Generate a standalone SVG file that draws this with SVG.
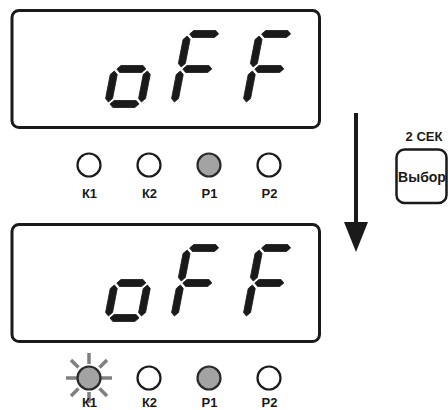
<svg xmlns="http://www.w3.org/2000/svg" xmlns:xlink="http://www.w3.org/1999/xlink" width="448" height="410" viewBox="0 0 448 410">
<style>
.box{fill:#fff;stroke:#1a1a1a;stroke-width:3}
.seg{fill:#1a1a1a;stroke:#1a1a1a;stroke-width:0.8;stroke-linejoin:round}
.led{fill:#fff;stroke:#1a1a1a;stroke-width:2.2}
.on{fill:#a3a3a3;stroke:#2a2a2a;stroke-width:2.2}
.lbl{font-family:"Liberation Sans",Arial,sans-serif;font-weight:bold;font-size:13px;fill:#1a1a1a;text-anchor:middle}
.ray{stroke:#808080;stroke-width:3.5}
.btn{fill:#fff;stroke:#1a1a1a;stroke-width:2.5}
</style>
<defs>
<g id="digO" transform="skewX(-11)">
<polygon class="seg" points="2,-35 5.5,-38.5 27.5,-38.5 31,-35 27.5,-31.5 5.5,-31.5"/>
<polygon class="seg" points="2,0 5.5,-3.5 27.5,-3.5 31,0 27.5,3.5 5.5,3.5"/>
<polygon class="seg" points="0,-33 3.5,-29.5 3.5,-5.5 0,-2 -3.5,-5.5 -3.5,-29.5"/>
<polygon class="seg" points="33,-33 36.5,-29.5 36.5,-5.5 33,-2 29.5,-5.5 29.5,-29.5"/>
</g>
<g id="digF" transform="skewX(-11)">
<polygon class="seg" points="2,-70 5.5,-73.5 27.5,-73.5 31,-70 27.5,-66.5 5.5,-66.5"/>
<polygon class="seg" points="2,-35 5.5,-38.5 27.5,-38.5 31,-35 27.5,-31.5 5.5,-31.5"/>
<polygon class="seg" points="0,-68 3.5,-64.5 3.5,-40.5 0,-37 -3.5,-40.5 -3.5,-64.5"/>
<polygon class="seg" points="0,-33 3.5,-29.5 3.5,-5.5 0,-2 -3.5,-5.5 -3.5,-29.5"/>
</g>
</defs>

<g id="display1">
<rect class="box" x="12" y="10.5" width="307.5" height="117" rx="7"/>
<use xlink:href="#digO" href="#digO" transform="translate(108,104)"/>
<use xlink:href="#digF" href="#digF" transform="translate(174,104)"/>
<use xlink:href="#digF" href="#digF" transform="translate(246,104)"/>
</g>
<g id="leds1">
<circle class="led" cx="89" cy="165" r="11.5"/>
<circle class="led" cx="149" cy="165" r="11.5"/>
<circle class="on" cx="209" cy="165" r="11.5"/>
<circle class="led" cx="269" cy="165" r="11.5"/>
<text class="lbl" x="89.5" y="197.5">К1</text>
<text class="lbl" x="149.5" y="197.5">К2</text>
<text class="lbl" x="209.5" y="197.5">Р1</text>
<text class="lbl" x="269.5" y="197.5">Р2</text>
</g>

<g id="display2">
<rect class="box" x="12" y="224.5" width="307.5" height="117" rx="7"/>
<use xlink:href="#digO" href="#digO" transform="translate(108,318)"/>
<use xlink:href="#digF" href="#digF" transform="translate(174,318)"/>
<use xlink:href="#digF" href="#digF" transform="translate(246,318)"/>
</g>
<g id="leds2">
<g transform="translate(89,378)">
<line class="ray" x1="0" y1="-14" x2="0" y2="-25"/>
<line class="ray" x1="0" y1="14" x2="0" y2="25"/>
<line class="ray" x1="-12" y1="0" x2="-23" y2="0"/>
<line class="ray" x1="12" y1="0" x2="23" y2="0"/>
<line class="ray" x1="-10.5" y1="-10.5" x2="-18" y2="-18"/>
<line class="ray" x1="10.5" y1="-10.5" x2="18" y2="-18"/>
<line class="ray" x1="-10.5" y1="10.5" x2="-18" y2="18"/>
<line class="ray" x1="10.5" y1="10.5" x2="18" y2="18"/>
</g>
<circle class="on" cx="89" cy="378" r="11.5"/>
<circle class="led" cx="149" cy="378" r="11.5"/>
<circle class="on" cx="209" cy="378" r="11.5"/>
<circle class="led" cx="269" cy="378" r="11.5"/>
<text class="lbl" x="89.5" y="406.5">К1</text>
<text class="lbl" x="149.5" y="406.5">К2</text>
<text class="lbl" x="209.5" y="406.5">Р1</text>
<text class="lbl" x="269.5" y="406.5">Р2</text>
</g>

<g id="button">
<text class="lbl" x="424" y="141" style="font-size:13px">2 СЕК</text>
<rect class="btn" x="396.5" y="149.5" width="50" height="53.5" rx="8"/>
<text class="lbl" x="422" y="182" style="font-size:14px">Выбор</text>
</g>

<g id="connectors">
<line x1="356" y1="113" x2="356" y2="224" stroke="#1a1a1a" stroke-width="4"/>
<polygon points="344,222 368,222 356,252" fill="#1a1a1a"/>
</g>
</svg>
